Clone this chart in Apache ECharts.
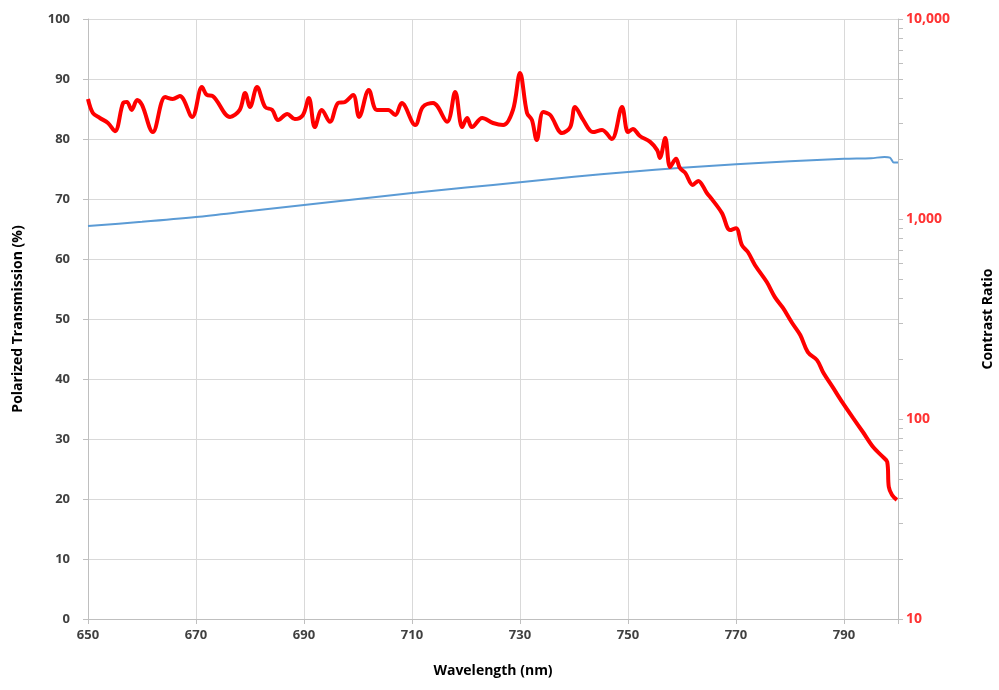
<!DOCTYPE html>
<html>
<head>
<meta charset="utf-8">
<script src="https://cdn.jsdelivr.net/npm/echarts@6/dist/echarts.min.js"></script>
<style>
html,body{margin:0;padding:0;background:#fff;}
#chart{width:999px;height:690px;}
</style>
</head>
<body>
<div id="chart"></div>
<script>
// Wavelength (nm) samples for the contrast ratio curve
var redWl = [650.0,650.9,652.2,653.7,655.0,656.5,657.2,658.1,659.1,660.0,662.0,664.3,665.7,667.0,669.3,671.1,672.0,673.1,676.3,678.1,679.1,680.0,681.3,682.8,684.1,685.2,686.9,688.3,689.8,690.9,692.0,693.3,694.8,696.3,697.6,699.1,700.2,702.0,703.5,705.6,706.9,708.1,710.6,712.0,713.9,716.5,718.0,719.3,720.2,721.1,723.0,725.0,726.9,728.7,730.0,731.3,732.2,733.1,734.3,735.6,737.8,739.3,740.2,741.7,743.5,745.2,747.0,748.9,750.0,750.9,752.2,754.1,755.4,755.9,756.9,757.8,758.9,759.6,760.6,762.0,763.0,764.6,765.6,767.4,768.9,770.0,771.1,772.2,773.5,775.7,777.2,778.7,780.4,781.9,783.3,785.0,786.1,788.0,789.8,791.7,793.5,795.4,797.2,798.0,798.3,798.9,799.8];
// Contrast ratio values
var redCR = [3980,3390,3200,3020,2750,3800,3850,3510,3940,3720,2720,4070,3980,4120,3240,4570,4170,4120,3240,3510,4270,3630,4570,3630,3510,3130,3350,3160,3310,4030,2880,3510,3060,3800,3850,4170,3240,4420,3510,3510,3310,3800,2950,3630,3800,3060,4320,2880,3200,2880,3200,3020,2950,3510,5370,3390,3130,2480,3430,3310,2690,2880,3630,3130,2720,2790,2510,3630,2720,2820,2600,2430,2210,2020,2540,1820,2000,1800,1700,1480,1550,1350,1250,1070,880,900,740,684,589,484,407,359,302,263,216,197,172,143,120,101,86.1,72.4,64.6,61.0,45.7,41.7,39.4];
// Polarized transmission curve
var blueWl = [650,660,670,680,690,700,710,720,730,740,750,760,770,780,790,795,797.5,798.5,799.2,800];
var blueT = [65.5,66.2,67.0,68.0,69.0,70.0,71.0,71.9,72.8,73.7,74.5,75.2,75.8,76.3,76.7,76.8,77.0,76.9,76.1,76.1];

var leftTicks = [0,10,20,30,40,50,60,70,80,90,100];
var rightTicks = ['10','100','1,000','10,000'];
var xTicks = [650,670,690,710,730,750,770,790];

function zip(a,b){var r=[];for(var i=0;i<a.length;i++){r.push([a[i],b[i]]);}return r;}

var chart = echarts.init(document.getElementById('chart'), null, {renderer:'canvas'});
var labelFont = {fontFamily:'Open Sans', fontSize:13, fontWeight:'bold', color:'#404040'};
chart.setOption({
  animation:false,
  backgroundColor:'#fff',
  grid:{left:88,right:101,top:19,bottom:71,containLabel:false,outerBoundsMode:'none'},
  xAxis:{
    type:'value', min:650, max:800, interval:20,
    name:'Wavelength (nm)', nameLocation:'middle', nameGap:45,
    nameTextStyle:{fontFamily:'Open Sans', fontSize:14, fontWeight:'bold', color:'#000'},
    axisLine:{show:true, lineStyle:{color:'#bfbfbf'}},
    axisTick:{show:true, length:5, lineStyle:{color:'#bfbfbf'}},
    axisLabel:Object.assign({margin:10, formatter:function(v){return xTicks.indexOf(v)>=0?String(v):'';}}, labelFont),
    splitLine:{show:true, lineStyle:{color:'#d9d9d9', width:1}}
  },
  yAxis:[{
    type:'value', min:0, max:100, interval:10, position:'left',
    name:'Polarized Transmission (%)', nameLocation:'middle', nameGap:63, nameRotate:90,
    nameTextStyle:{fontFamily:'Open Sans', fontSize:14, fontWeight:'bold', color:'#000'},
    axisLine:{show:true, lineStyle:{color:'#bfbfbf'}},
    axisTick:{show:true, length:5, lineStyle:{color:'#bfbfbf'}},
    axisLabel:Object.assign({margin:18, formatter:function(v){return leftTicks.indexOf(v)>=0?String(v):'';}}, labelFont),
    splitLine:{show:true, lineStyle:{color:'#d9d9d9', width:1}}
  },{
    type:'log', logBase:10, min:10, max:10000, position:'right',
    name:'Contrast Ratio', nameLocation:'middle', nameGap:83, nameRotate:90,
    nameTextStyle:{fontFamily:'Open Sans', fontSize:14, fontWeight:'bold', color:'#000'},
    axisLine:{show:true, lineStyle:{color:'#bfbfbf'}},
    axisTick:{show:true, inside:false, length:5, lineStyle:{color:'#bfbfbf'}},
    minorTick:{show:true, splitNumber:9, length:5, lineStyle:{color:'#bfbfbf'}},
    axisLabel:{margin:8, fontFamily:'Open Sans', fontSize:14, fontWeight:'bold', color:'#ff3333',
      formatter:function(v){var e=Math.round(Math.log10(v))-1;return rightTicks[e]!==undefined?rightTicks[e]:'';}},
    splitLine:{show:false}
  }],
  series:[{
    type:'line', yAxisIndex:0, data:zip(blueWl,blueT), showSymbol:false, smooth:0.3,
    lineStyle:{color:'#5b9bd5', width:2}, z:2
  },{
    type:'line', yAxisIndex:1, data:zip(redWl,redCR), showSymbol:false, smooth:0.35,
    lineStyle:{color:'#ff0000', width:4}, z:3
  }]
});
</script>
</body>
</html>
